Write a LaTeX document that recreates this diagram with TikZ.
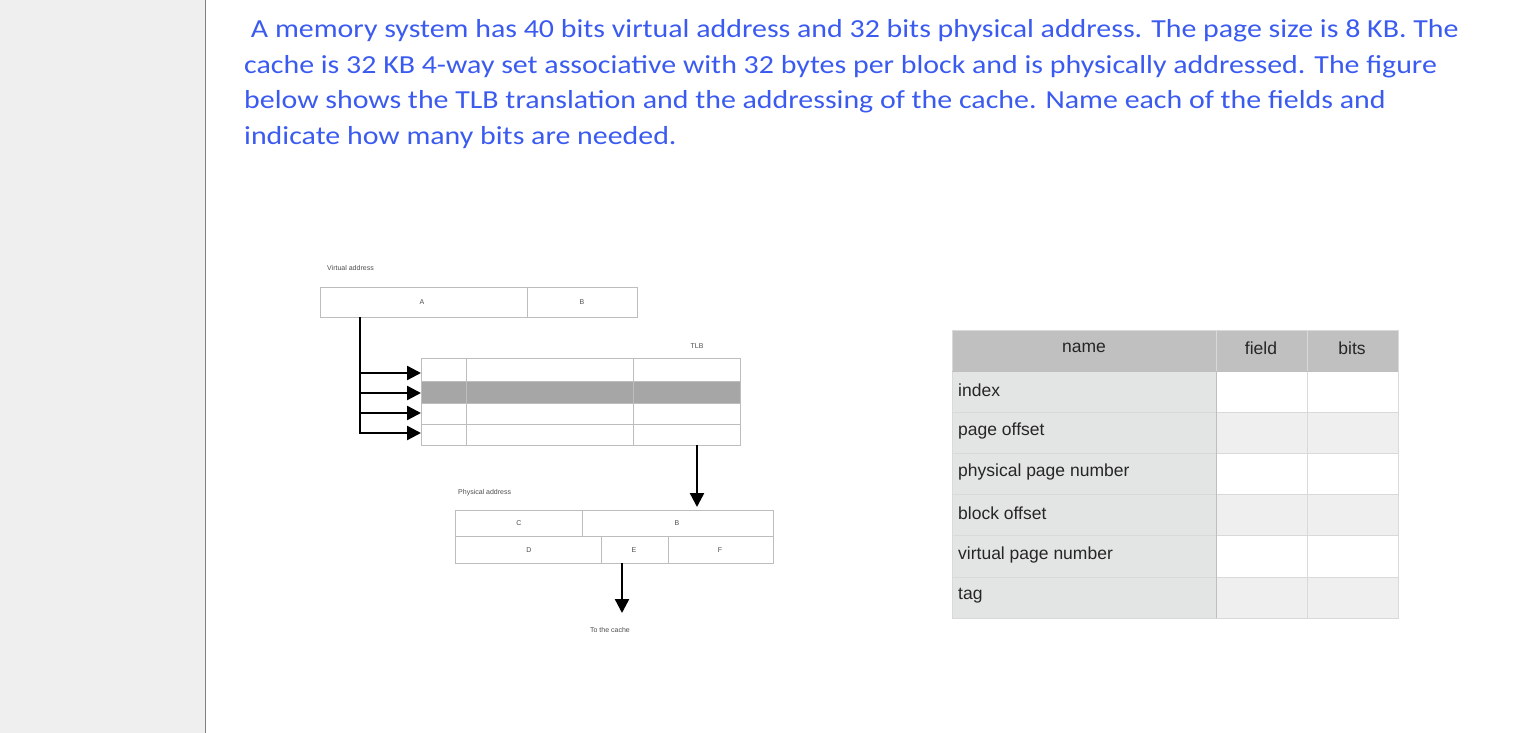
\documentclass[tikz,border=0pt]{standalone}
\usepackage{fontspec}
\usepackage{graphicx}
\setmainfont{Carlito}
\newfontfamily\arialf{Liberation Sans}
\usetikzlibrary{arrows.meta}
\definecolor{qblue}{HTML}{3B5BF0}
\definecolor{hdr}{HTML}{C0C0C0}
\definecolor{namec}{HTML}{E3E4E4}
\definecolor{alt}{HTML}{EFEFEF}
\definecolor{gline}{HTML}{BDBDBD}
\newcommand{\qstretch}[1]{\scalebox{1.15}[1]{#1}}
\begin{document}
\begin{tikzpicture}[x=1pt,y=-1pt,
  cell/.style={draw=gline,line width=0.8pt},
  tiny/.style={font=\arialf\fontsize{7}{8}\selectfont,text=black!70,inner sep=0pt},
  qline/.style={anchor=base west,inner sep=0pt,text=qblue,font=\fontsize{26}{30}\selectfont},
  tcell/.style={draw=white!85!black,line width=0.8pt},
  ttext/.style={anchor=west,inner sep=0pt,text=black!85,font=\arialf\fontsize{17.5}{20}\selectfont},
  blk/.style={line width=2.4pt},
  arr/.style={blk,-{Triangle[length=14pt,width=14pt]}}]
\useasboundingbox (0,0) rectangle (1531,733);
\fill[alt] (0,0) rectangle (205,733);
\draw[gray,line width=1pt] (205,0) -- (205,733);
% question text
\node[qline] (q1) at (244,38) {\qstretch{\ A memory system has 40 bits virtual address and 32 bits physical address. The page size is 8 KB. The}};
\node[qline] (q2) at (244,74) {\qstretch{cache is 32 KB 4-way set associative with 32 bytes per block and is physically addressed. The figure}};
\node[qline] (q3) at (244,109) {\qstretch{below shows the TLB translation and the addressing of the cache. Name each of the fields and}};
\node[qline] (q4) at (244,145) {\qstretch{indicate how many bits are needed.}};
% virtual address
\node[tiny,anchor=west] (val) at (327,268) {Virtual address};
\draw[cell] (320,287) rectangle (527,317) (527,287) rectangle (637,317);
\node[tiny] (A) at (422,302) {A};
\node[tiny] (B1) at (582,302) {B};
% TLB
\node[tiny] (tlbl) at (697,346) {TLB};
\fill[black!35] (421,381) rectangle (740,403);
\draw[cell] (421,358) rectangle (740,445);
\foreach \y in {381,403,424} \draw[cell] (421,\y) -- (740,\y);
\foreach \x in {466,633} \draw[cell] (\x,358) -- (\x,445);
\coordinate (vs) at (360,317);
\coordinate (vb) at (360,433);
\draw[blk] (vs) -- (vb);
\foreach \y in {373,393,413,433} {
  \coordinate (s\y) at (359,\y); \coordinate (t\y) at (421,\y);
  \draw[arr] (s\y) -- (t\y);}
\coordinate (tlbout) at (697,445);
\coordinate (pain) at (697,507);
\draw[arr] (tlbout) -- (pain);
% physical address
\node[tiny,anchor=west] (pal) at (458,493) {Physical address};
\draw[cell] (455,510) rectangle (582,536) (582,510) rectangle (773,536);
\draw[cell] (455,536) rectangle (601,563) (601,536) rectangle (668,563) (668,536) rectangle (773,563);
\node[tiny] (C) at (519,523) {C};
\node[tiny] (B2) at (677,523) {B};
\node[tiny] (D) at (529,550) {D};
\node[tiny] (E) at (634,550) {E};
\node[tiny] (F) at (720,550) {F};
\coordinate (eout) at (622,563);
\coordinate (cache) at (622,613);
\draw[arr] (eout) -- (cache);
\node[tiny] (tc) at (610,630) {To the cache};
% table
\fill[hdr] (952,330) rectangle (1398,371);
\foreach \i/\c in {0/white,1/alt,2/white,3/alt,4/white,5/alt} {
  \fill[namec] (952,371+41.2*\i) rectangle (1216,412.2+41.2*\i);
  \fill[\c] (1216,371+41.2*\i) rectangle (1398,412.2+41.2*\i);
  \draw[tcell] (952,371+41.2*\i) rectangle (1398,412.2+41.2*\i);}
\draw[tcell] (952,330) rectangle (1398,371);
\draw[tcell] (1216,330) -- (1216,618) (1307,330) -- (1307,618);
\draw[black!25,line width=1pt] (952,371) -- (1398,371) (1216,371) -- (1216,618);
\node[ttext,anchor=center] (hn) at (1084,348) {name};
\node[ttext,anchor=center] (hf) at (1261,348) {field};
\node[ttext,anchor=center] (hb) at (1352,348) {bits};
\node[ttext] (r1) at (958,390) {index};
\node[ttext] (r2) at (958,431) {page offset};
\node[ttext] (r3) at (958,472) {physical page number};
\node[ttext] (r4) at (958,513) {block offset};
\node[ttext] (r5) at (958,555) {virtual page number};
\node[ttext] (r6) at (958,596) {tag};
\end{tikzpicture}
\end{document}
